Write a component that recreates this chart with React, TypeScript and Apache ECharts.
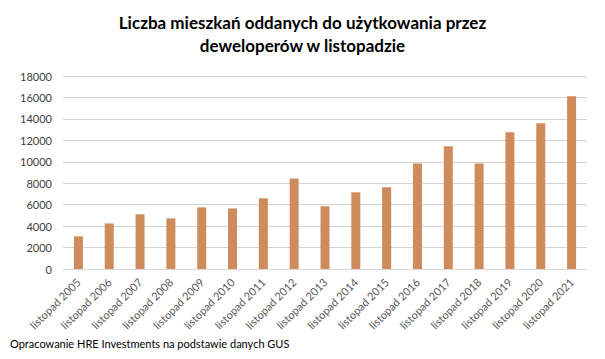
import React, { useEffect, useRef } from "react";
import * as echarts from "echarts";

const categories = [
  "listopad 2005", "listopad 2006", "listopad 2007", "listopad 2008", "listopad 2009",
  "listopad 2010", "listopad 2011", "listopad 2012", "listopad 2013", "listopad 2014",
  "listopad 2015", "listopad 2016", "listopad 2017", "listopad 2018", "listopad 2019",
  "listopad 2020", "listopad 2021",
];
const values = [3050, 4250, 5100, 4720, 5750, 5650, 6600, 8450, 5850, 7150, 7620, 9850, 11450, 9850, 12750, 13600, 16100];
const titleLines = ["Liczba mieszkań oddanych do użytkowania przez", "deweloperów w listopadzie"];
const footerText = "Opracowanie HRE Investments na podstawie danych GUS";

export default function App() {
  const ref = useRef<HTMLDivElement>(null);
  useEffect(() => {
    if (!ref.current) return;
    const chart = echarts.init(ref.current, undefined, { renderer: "svg" });
    chart.setOption({
      animation: false,
      backgroundColor: "#ffffff",
      graphic: [
        {
          type: "text",
          x: 302.5,
          y: 22,
          style: {
            text: titleLines[0],
            align: "center",
            verticalAlign: "middle",
            fontFamily: "Lato",
            fontWeight: "bold",
            fontSize: 17,
            fill: "#000000",
          },
        },
        {
          type: "text",
          x: 302.5,
          y: 45,
          style: {
            text: titleLines[1],
            align: "center",
            verticalAlign: "middle",
            fontFamily: "Lato",
            fontWeight: "bold",
            fontSize: 17,
            fill: "#000000",
          },
        },
        {
          type: "text",
          x: 10,
          y: 343,
          style: {
            text: footerText,
            verticalAlign: "middle",
            fontFamily: "Lato",
            fontSize: 11,
            fill: "#000000",
          },
        },
      ],
      grid: { left: 63, right: 18, top: 76, bottom: 90, containLabel: false },
      xAxis: {
        type: "category",
        data: categories,
        axisLine: { lineStyle: { color: "#d9d9d9" } },
        axisTick: { show: false },
        axisLabel: {
          rotate: 45,
          interval: 0,
          color: "#595959",
          fontFamily: "Lato",
          fontSize: 11,
          margin: 11,
        },
      },
      yAxis: {
        type: "value",
        min: 0,
        max: 18000,
        interval: 2000,
        axisLine: { show: false },
        axisTick: { show: false },
        splitLine: { lineStyle: { color: "#d4d4d4" } },
        axisLabel: {
          color: "#404040",
          fontFamily: "Lato",
          fontSize: 11,
          margin: 11,
          formatter: (v: number) => String(v),
        },
      },
      series: [
        {
          type: "bar",
          data: values,
          barWidth: 9,
          itemStyle: { color: "#d08b5c" },
        },
      ],
    });
    return () => chart.dispose();
  }, []);
  return <div ref={ref} style={{ width: 605, height: 359, margin: -8 }} />;
}
